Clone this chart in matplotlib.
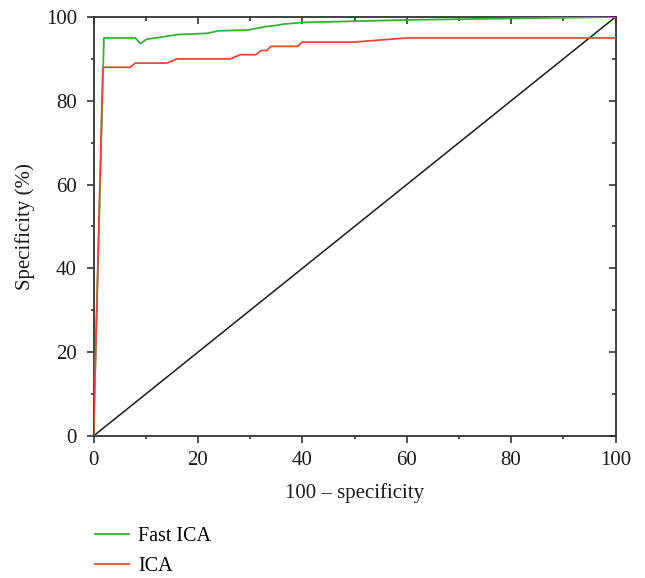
import matplotlib
matplotlib.use("Agg")
import matplotlib.pyplot as plt
from matplotlib.ticker import MultipleLocator

plt.rcParams['font.family'] = ['Liberation Serif', 'DejaVu Serif']
plt.rcParams['font.size'] = 15

# Data
fast_x = [0, 2, 8, 9, 10.2, 13, 16, 21.7, 24, 29.6, 33, 35, 36.4, 40, 60, 100]
fast_y = [0, 95, 95, 93.7, 94.7, 95.2, 95.8, 96.1, 96.7, 96.9, 97.7, 98.0, 98.3, 98.7, 99.3, 100]
ica_x = [0, 1.8, 7, 8, 14, 16, 26.2, 28.1, 31.1, 32.1, 33.2, 34, 39.1, 40, 49.8, 60, 100]
ica_y = [0, 88, 88, 89, 89, 90, 90, 91, 91, 92, 92, 93, 93, 94, 94, 95, 95]
diag_x = [0, 100]
diag_y = [0, 100]
labels = ["Fast ICA", "ICA"]

GREEN = '#38b038'
RED = '#f0463a'
SPINE = '#333333'
TEXT = '#1a1a1a'

fig = plt.figure(figsize=(6.45, 5.78), dpi=100)
ax = fig.add_axes([93.5/645, 1-436/578, (615.5-93.5)/645, (436-17)/578])

ax.plot(fast_x, fast_y, color=GREEN, lw=1.3, label=labels[0], zorder=3)
ax.plot(ica_x, ica_y, color=RED, lw=1.3, label=labels[1], zorder=3)
ax.plot(diag_x, diag_y, color=TEXT, lw=1.1, clip_on=False, zorder=2)

ax.set_xlim(0, 100)
ax.set_ylim(0, 100)
for s in ax.spines.values():
    s.set_color(SPINE)
    s.set_linewidth(1.3)

ax.xaxis.set_major_locator(MultipleLocator(20))
ax.xaxis.set_minor_locator(MultipleLocator(10))
ax.yaxis.set_major_locator(MultipleLocator(20))
ax.yaxis.set_minor_locator(MultipleLocator(10))
ax.tick_params(which='both', direction='out', color=SPINE, width=1.2,
               labelcolor=TEXT, labelsize=15, top=False, right=False)
ax.tick_params(which='major', length=5)
ax.tick_params(which='minor', length=2.5)
ax.tick_params(axis='x', which='major', pad=5.5)
ax.tick_params(axis='y', which='major', pad=7)

secx = ax.secondary_xaxis('top')
secx.xaxis.set_major_locator(MultipleLocator(20))
secx.xaxis.set_minor_locator(MultipleLocator(10))
secx.tick_params(which='both', direction='in', labeltop=False, color=SPINE, width=1.2)
secx.tick_params(which='major', length=5)
secx.tick_params(which='minor', length=3)
secx.spines['top'].set_visible(False)

secy = ax.secondary_yaxis('right')
secy.yaxis.set_major_locator(MultipleLocator(20))
secy.yaxis.set_minor_locator(MultipleLocator(10))
secy.tick_params(which='both', direction='in', labelright=False, color=SPINE, width=1.2)
secy.tick_params(which='major', length=5)
secy.tick_params(which='minor', length=3)
secy.spines['right'].set_visible(False)

ax.set_xlabel('100 – specificity', fontsize=15, labelpad=10, color=TEXT)
ax.set_ylabel('Specificity (%)', fontsize=15, labelpad=8, color=TEXT)

handles, labs = ax.get_legend_handles_labels()
fig.legend(handles, labs, loc='upper left', bbox_to_anchor=(95/645, 1-527/578),
           frameon=False, borderpad=0, borderaxespad=0, handlelength=1.7,
           handletextpad=0.45, labelspacing=0.55, fontsize=14.5)

fig.savefig('out.png', dpi=100)
